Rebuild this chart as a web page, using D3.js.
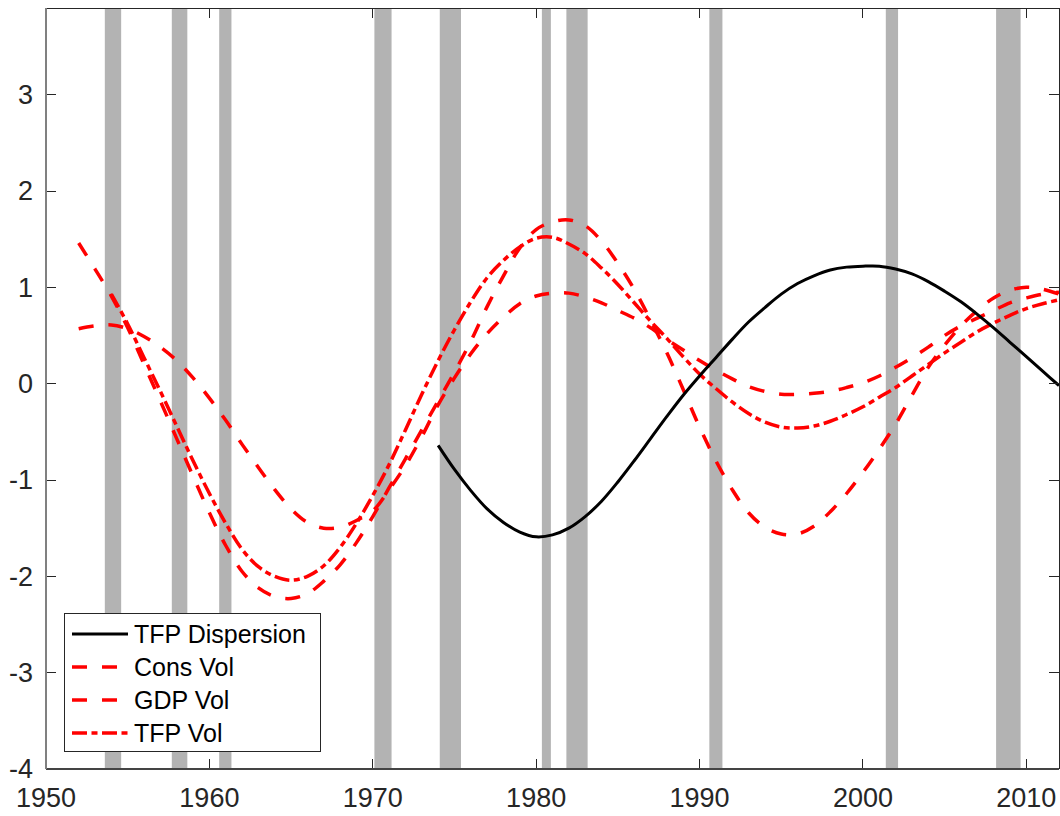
<!DOCTYPE html>
<html>
<head>
<meta charset="utf-8">
<script src="https://cdn.jsdelivr.net/npm/d3@7"></script>
<style>
  html, body { margin: 0; padding: 0; background: #fff; }
  svg { display: block; }
  text { font-family: "Liberation Sans", Arial, Helvetica, sans-serif; fill: #262626; }
</style>
</head>
<body>
<svg id="chart" width="1060" height="816"></svg>
<script>
// ---------------- data ----------------
const seriesYearsLong = d3.range(1952, 2013);   // Cons Vol, GDP Vol
const seriesYearsTFP = d3.range(1954, 2013);    // TFP Vol
const seriesYearsDisp = d3.range(1974, 2013);   // TFP Dispersion

const consVol = [
  0.57, 0.60, 0.61, 0.57, 0.49, 0.38, 0.24, 0.06, -0.15, -0.38,
  -0.63, -0.87, -1.10, -1.30, -1.44, -1.50, -1.49, -1.42, -1.32, -1.10,
  -0.85, -0.55, -0.22, 0.06, 0.31, 0.52, 0.69, 0.83, 0.91, 0.94,
  0.94, 0.90, 0.84, 0.76, 0.68, 0.58, 0.46, 0.35, 0.24, 0.14,
  0.05, -0.03, -0.08, -0.11, -0.11, -0.10, -0.08, -0.04, 0.01, 0.08,
  0.17, 0.27, 0.38, 0.50, 0.60, 0.68, 0.76, 0.84, 0.89, 0.93,
  0.95
];

const gdpVol = [
  1.46, 1.19, 0.91, 0.58, 0.20, -0.18, -0.57, -0.96, -1.34, -1.68,
  -1.95, -2.12, -2.21, -2.23, -2.18, -2.05, -1.88, -1.65, -1.38, -1.08,
  -0.78, -0.48, -0.18, 0.12, 0.44, 0.80, 1.12, 1.41, 1.60, 1.68,
  1.70, 1.64, 1.48, 1.25, 0.98, 0.66, 0.32, -0.06, -0.45, -0.80,
  -1.10, -1.34, -1.49, -1.56, -1.56, -1.48, -1.33, -1.14, -0.92, -0.68,
  -0.42, -0.12, 0.17, 0.40, 0.60, 0.76, 0.89, 0.97, 1.00, 0.98,
  0.93
];

const tfpVol = [
  0.93, 0.62, 0.27, -0.08, -0.44, -0.80, -1.14, -1.45, -1.72, -1.90,
  -2.00, -2.04, -2.00, -1.89, -1.70, -1.45, -1.16, -0.84, -0.48, -0.11,
  0.24, 0.56, 0.85, 1.10, 1.28, 1.42, 1.51, 1.52, 1.45, 1.35,
  1.20, 1.03, 0.84, 0.65, 0.47, 0.28, 0.10, -0.05, -0.19, -0.31,
  -0.40, -0.45, -0.46, -0.44, -0.39, -0.32, -0.24, -0.14, -0.04, 0.08,
  0.20, 0.32, 0.43, 0.54, 0.63, 0.71, 0.78, 0.83, 0.87
];

const tfpDispersion = [
  -0.64, -0.89, -1.11, -1.30, -1.44, -1.54, -1.59, -1.57, -1.50, -1.38,
  -1.22, -1.02, -0.80, -0.57, -0.34, -0.12, 0.08, 0.27, 0.46, 0.64,
  0.79, 0.93, 1.04, 1.12, 1.18, 1.21, 1.22, 1.22, 1.19, 1.14,
  1.06, 0.96, 0.85, 0.72, 0.58, 0.43, 0.28, 0.13, -0.02
];

const recessionStarts = [1953.6, 1957.7, 1960.6, 1970.1, 1974.1, 1980.35, 1981.85, 1990.6, 2001.4, 2008.15];
const recessionEnds   = [1954.6, 1958.65, 1961.35, 1971.15, 1975.4, 1980.9, 1983.15, 1991.4, 2002.15, 2009.65];

const xTicks = [1950, 1960, 1970, 1980, 1990, 2000, 2010];
const yTicks = [-4, -3, -2, -1, 0, 1, 2, 3];

const legendLabels = ["TFP Dispersion", "Cons Vol", "GDP Vol", "TFP Vol"];

// ---------------- layout ----------------
const padL = 46, padR = 1059, padT = 8, padB = 769;
const svg = d3.select("#chart");

const x = d3.scaleLinear().domain([1950, 2012]).range([padL, padR]);
const y = d3.scaleLinear().domain([-4, 3.9]).range([padB, padT]);

// recession shading
svg.append("g").selectAll("rect")
  .data(recessionStarts.map((s, i) => [s, recessionEnds[i]]))
  .join("rect")
  .attr("x", d => x(d[0]))
  .attr("width", d => x(d[1]) - x(d[0]))
  .attr("y", padT)
  .attr("height", padB - padT)
  .attr("fill", "#b3b3b3");

// clip
svg.append("clipPath").attr("id", "plotclip")
  .append("rect").attr("x", padL).attr("y", padT)
  .attr("width", padR - padL).attr("height", padB - padT);

const plot = svg.append("g").attr("clip-path", "url(#plotclip)");

const line = d3.line()
  .x(d => x(d[0]))
  .y(d => y(d[1]))
  .curve(d3.curveCatmullRom.alpha(0.5));

const series = [
  { years: seriesYearsLong, values: consVol, color: "#ff0000", width: 3.5, dash: "15,15" },
  { years: seriesYearsLong, values: gdpVol, color: "#ff0000", width: 3.5, dash: "15,15" },
  { years: seriesYearsTFP, values: tfpVol, color: "#ff0000", width: 3.5, dash: "15,4.5,6,4.5" },
  { years: seriesYearsDisp, values: tfpDispersion, color: "#000000", width: 3, dash: null }
];

series.forEach(s => {
  plot.append("path")
    .datum(s.years.map((yr, i) => [yr, s.values[i]]))
    .attr("d", line)
    .attr("fill", "none")
    .attr("stroke", s.color)
    .attr("stroke-width", s.width)
    .attr("stroke-dasharray", s.dash)
    .attr("stroke-linecap", "butt")
    .attr("stroke-linejoin", "round");
});

// axes (MATLAB box style, inward ticks)
const axisColor = "#262626";
const tickLen = 10;
const axes = svg.append("g").attr("shape-rendering", "crispEdges");

xTicks.forEach(t => {
  axes.append("line").attr("x1", x(t)).attr("x2", x(t))
    .attr("y1", padB).attr("y2", padB - tickLen)
    .attr("stroke", axisColor).attr("stroke-width", 1);
  axes.append("line").attr("x1", x(t)).attr("x2", x(t))
    .attr("y1", padT).attr("y2", padT + tickLen)
    .attr("stroke", axisColor).attr("stroke-width", 1);
});
yTicks.forEach(t => {
  axes.append("line").attr("x1", padL).attr("x2", padL + tickLen)
    .attr("y1", y(t)).attr("y2", y(t))
    .attr("stroke", axisColor).attr("stroke-width", 1);
  axes.append("line").attr("x1", padR).attr("x2", padR - tickLen)
    .attr("y1", y(t)).attr("y2", y(t))
    .attr("stroke", axisColor).attr("stroke-width", 1);
});

// box
axes.append("line").attr("x1", padL).attr("x2", padR).attr("y1", padT).attr("y2", padT)
  .attr("stroke", axisColor).attr("stroke-width", 1);
axes.append("line").attr("x1", padL).attr("x2", padR).attr("y1", padB).attr("y2", padB)
  .attr("stroke", "#444").attr("stroke-width", 1.5);
axes.append("line").attr("x1", padL).attr("x2", padL).attr("y1", padT).attr("y2", padB)
  .attr("stroke", "#808080").attr("stroke-width", 1.5);
axes.append("line").attr("x1", padR).attr("x2", padR).attr("y1", padT).attr("y2", padB)
  .attr("stroke", axisColor).attr("stroke-width", 1);

// tick labels
svg.append("g").selectAll("text")
  .data(xTicks).join("text")
  .attr("x", d => x(d))
  .attr("y", 807)
  .attr("text-anchor", "middle")
  .attr("font-size", 27)
  .text(d => d);

svg.append("g").selectAll("text")
  .data(yTicks).join("text")
  .attr("x", 33)
  .attr("y", d => y(d))
  .attr("dy", "0.35em")
  .attr("text-anchor", "end")
  .attr("font-size", 27)
  .text(d => d < 0 ? "-" + Math.abs(d) : String(d));

// legend
const lg = svg.append("g");
lg.append("rect")
  .attr("x", 64.5).attr("y", 613.5).attr("width", 256).attr("height", 138)
  .attr("fill", "#fff").attr("stroke", axisColor).attr("stroke-width", 1);

const legendStyles = [series[3], series[0], series[1], series[2]];
legendLabels.forEach((lab, i) => {
  const cy = 634 + i * 33;
  const st = legendStyles[i];
  lg.append("line")
    .attr("x1", 72).attr("x2", 128).attr("y1", cy).attr("y2", cy)
    .attr("stroke", st.color).attr("stroke-width", st.width)
    .attr("stroke-dasharray", st.dash);
  lg.append("text")
    .attr("x", 134).attr("y", cy + 9)
    .attr("font-size", 25)
    .style("fill", "#000")
    .text(lab);
});
</script>
</body>
</html>
